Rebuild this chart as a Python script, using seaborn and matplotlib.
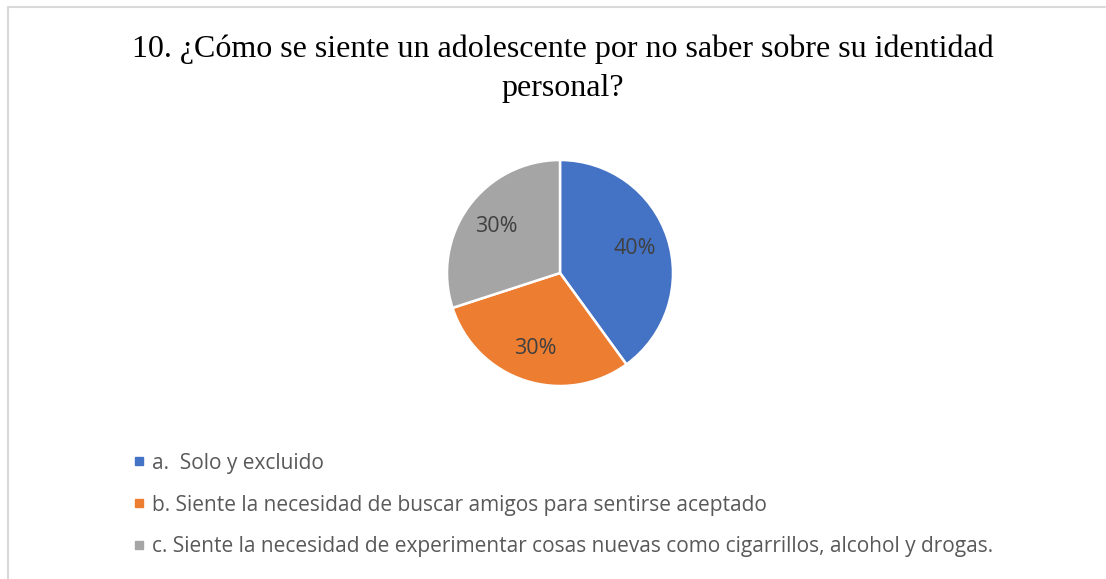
import matplotlib
matplotlib.use("Agg")
import matplotlib.pyplot as plt
import seaborn as sns
from matplotlib.lines import Line2D

sns.set_theme(style="white")

# -----------------------------------
# Data
# -----------------------------------

categories = [
    "a.  Solo y excluido",
    "b. Siente la necesidad de buscar amigos para sentirse aceptado",
    "c. Siente la necesidad de experimentar cosas nuevas como cigarrillos, alcohol y drogas.",
]
percentages = [40, 30, 30]
colors = ["#4472C4", "#ED7D31", "#A5A5A5"]

title = "10. ¿Cómo se siente un adolescente por no saber sobre su identidad\npersonal?"

W, H = 1106, 579

fig = plt.figure(figsize=(W / 100, H / 100), dpi=100)
fig.patch.set_facecolor("white")

# chart border (only top and left visible in the crop)
fig.add_artist(Line2D([8 / W, 1105 / W], [1 - 7 / H, 1 - 7 / H],
                      color="#d9d9d9", lw=1.5, transform=fig.transFigure))
fig.add_artist(Line2D([8 / W, 8 / W], [1 - 7 / H, 0],
                      color="#d9d9d9", lw=1.5, transform=fig.transFigure))

# Title
fig.text(563 / W, 1 - 35 / H, title, ha="center", va="top",
         fontsize=23, family="Liberation Serif", color="black",
         linespacing=1.42)

# Pie
cx, cy, r = 560, 273, 113
ax = fig.add_axes([(cx - r) / W, (H - cy - r) / H, 2 * r / W, 2 * r / H])
wedges, texts, autotexts = ax.pie(
    percentages,
    colors=colors,
    startangle=90,
    counterclock=False,
    autopct="%d%%",
    pctdistance=0.7,
    wedgeprops=dict(edgecolor="white", linewidth=1.8),
    textprops=dict(color="#404040", fontsize=15.5, family="Open Sans"),
)
ax.set_aspect("equal")
ax.set_xlim(-1, 1)
ax.set_ylim(-1, 1)
ax.axis("off")

# Legend
handles = [
    Line2D([0], [0], marker="s", linestyle="none", markersize=6,
           markerfacecolor=c, markeredgecolor=c)
    for c in colors
]
leg = fig.legend(
    handles, categories,
    loc="upper left",
    bbox_to_anchor=(115 / W, 1 - 434 / H),
    frameon=False,
    handlelength=0.5,
    handletextpad=0.4,
    labelspacing=1.0,
    prop=dict(family="Open Sans", size=15),
)
for t in leg.get_texts():
    t.set_color("#595959")

fig.savefig("out.png", dpi=100)
plt.close(fig)
